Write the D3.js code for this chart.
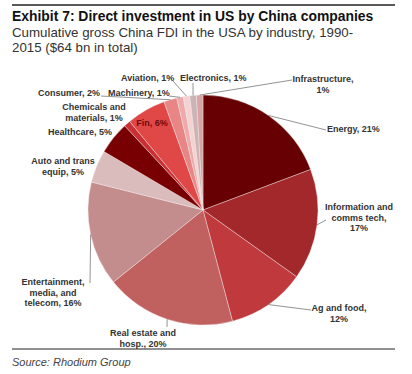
<!DOCTYPE html>
<html>
<head>
<meta charset="utf-8">
<script src="https://cdn.jsdelivr.net/npm/d3@7"></script>
<style>
  body { margin: 0; background: #fff; }
  svg { display: block; font-family: "Liberation Sans", Arial, sans-serif; }
</style>
</head>
<body>
<svg id="chart" width="412" height="374"></svg>
<script>
// slices, clockwise from 12 o'clock
var categories = ["Energy", "Information and comms tech", "Ag and food", "Real estate and hosp.",
  "Entertainment, media, and telecom", "Auto and trans equip", "Healthcare", "Chemicals and materials",
  "Fin", "Consumer", "Machinery", "Aviation", "Electronics", "Infrastructure"];
var shares = [21, 17, 12, 20, 16, 5, 5, 1, 6, 2, 1, 1, 1, 1];
var labelText = [
  ["Energy, 21%"],
  ["Information and", "comms tech,", "17%"],
  ["Ag and food,", "12%"],
  ["Real estate and", "hosp., 20%"],
  ["Entertainment,", "media, and", "telecom, 16%"],
  ["Auto and trans", "equip, 5%"],
  ["Healthcare, 5%"],
  ["Chemicals and", "materials, 1%"],
  ["Fin, 6%"],
  ["Consumer, 2%"],
  ["Machinery, 1%"],
  ["Aviation, 1%"],
  ["Electronics, 1%"],
  ["Infrastructure,", "1%"]
];
var colors = ["#660002", "#a3282b", "#c0393d", "#c0605f", "#c48d8d", "#dbbcbc", "#780002",
  "#c93034", "#e04848", "#e88585", "#eeaaaa", "#f5d2d2", "#ccb4b4", "#d6a6a6"];

// label placement: x, first baseline, anchor, leader end
var labelPos = [
  {x: 327, y: 132, a: "start", lx: 326, ly: 130},
  {x: 359, y: 210, a: "middle", lx: 326, ly: 220},
  {x: 339, y: 311, a: "middle", lx: 311, ly: 310},
  {x: 143, y: 336, a: "middle", lx: 167, ly: 327},
  {x: 53, y: 285, a: "middle", lx: 90, ly: 283},
  {x: 63, y: 164, a: "middle"},
  {x: 112, y: 135, a: "end"},
  {x: 94, y: 110, a: "middle"},
  {x: 152, y: 126, a: "middle", inside: true},
  {x: 38, y: 96, a: "start", lx: 101, ly: 96},
  {x: 108, y: 96, a: "start", lx: 169, ly: 96},
  {x: 121, y: 81, a: "start", lx: 173, ly: 81},
  {x: 180, y: 81, a: "start", lx: 193, ly: 83},
  {x: 323, y: 82, a: "middle", lx: 292, ly: 80}
];

var svg = d3.select("#chart");
var cx = 203, cy = 210, radius = 115;

// header
svg.append("line").attr("x1", 12).attr("x2", 395).attr("y1", 5).attr("y2", 5)
    .attr("stroke", "#222").attr("stroke-width", 1.5);
svg.append("text").attr("x", 12).attr("y", 21)
    .attr("font-size", 13.9).attr("font-weight", "bold").attr("fill", "#111")
    .text("Exhibit 7: Direct investment in US by China companies");
svg.append("text").attr("x", 12).attr("y", 37)
    .attr("font-size", 13.3).attr("fill", "#333")
    .text("Cumulative gross China FDI in the USA by industry, 1990-");
svg.append("text").attr("x", 12).attr("y", 52)
    .attr("font-size", 13.3).attr("fill", "#333")
    .text("2015 ($64 bn in total)");

var data = categories.map(function(c, i) {
  return {name: c, value: shares[i], color: colors[i], lines: labelText[i], pos: labelPos[i]};
});

var pie = d3.pie().sort(null).value(function(d) { return d.value; });
var arc = d3.arc().innerRadius(0).outerRadius(radius);
var arcs = pie(data);

var g = svg.append("g").attr("transform", "translate(" + cx + "," + cy + ")");

g.selectAll(".slice")
  .data(arcs)
  .enter().append("path")
    .attr("class", "slice")
    .attr("d", arc)
    .attr("fill", function(d) { return d.data.color; })
    .attr("stroke", "#f4eaea")
    .attr("stroke-width", 0.4);

// leader lines from the slice edge to its label
function edgePoint(d) {
  var a = (d.startAngle + d.endAngle) / 2;
  return [cx + radius * Math.sin(a), cy - radius * Math.cos(a)];
}

svg.selectAll(".leader")
  .data(arcs.filter(function(d) { return d.data.pos.lx != null; }))
  .enter().append("line")
    .attr("class", "leader")
    .attr("x1", function(d) { return edgePoint(d)[0]; })
    .attr("y1", function(d) { return edgePoint(d)[1]; })
    .attr("x2", function(d) { return d.data.pos.lx; })
    .attr("y2", function(d) { return d.data.pos.ly; })
    .attr("stroke", "#777")
    .attr("stroke-width", 0.8);

var labels = svg.selectAll(".label")
  .data(data)
  .enter().append("text")
    .attr("class", "label")
    .attr("x", function(d) { return d.pos.x; })
    .attr("y", function(d) { return d.pos.y; })
    .attr("text-anchor", function(d) { return d.pos.a; })
    .attr("font-size", 9)
    .attr("font-weight", "bold")
    .attr("fill", function(d) { return d.pos.inside ? "#6e0a0a" : "#333"; });

labels.selectAll("tspan")
  .data(function(d) { return d.lines.map(function(l) { return {text: l, x: d.pos.x}; }); })
  .enter().append("tspan")
    .attr("x", function(t) { return t.x; })
    .attr("dy", function(t, i) { return i ? 10.5 : 0; })
    .text(function(t) { return t.text; });

// footer
svg.append("line").attr("x1", 12).attr("x2", 395).attr("y1", 349).attr("y2", 349)
    .attr("stroke", "#222").attr("stroke-width", 1.2);
svg.append("text").attr("x", 12).attr("y", 366)
    .attr("font-size", 11).attr("font-style", "italic").attr("fill", "#444")
    .text("Source: Rhodium Group");
</script>
</body>
</html>
